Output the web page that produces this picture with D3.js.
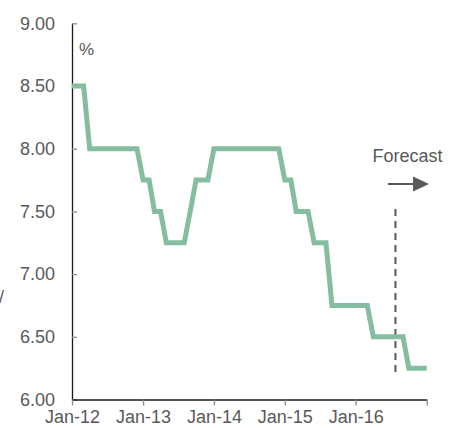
<!DOCTYPE html>
<html>
<head>
<meta charset="utf-8">
<script src="https://cdn.jsdelivr.net/npm/d3@7"></script>
<style>
  html, body { margin: 0; padding: 0; background: #fff; }
  svg { display: block; }
  text { font-family: "Liberation Sans", Arial, sans-serif; }
</style>
</head>
<body>
<svg id="chart" width="458" height="428"></svg>
<script>
// ---- data ----
const startMonth = "2012-01";
const endMonth = "2017-01";
const rates = [
  // 2012
  8.5, 8.5, 8.5, 8.0, 8.0, 8.0, 8.0, 8.0, 8.0, 8.0, 8.0, 8.0,
  // 2013
  7.75, 7.75, 7.5, 7.5, 7.25, 7.25, 7.25, 7.25, 7.5, 7.75, 7.75, 7.75,
  // 2014
  8.0, 8.0, 8.0, 8.0, 8.0, 8.0, 8.0, 8.0, 8.0, 8.0, 8.0, 8.0,
  // 2015
  7.75, 7.75, 7.5, 7.5, 7.5, 7.25, 7.25, 7.25, 6.75, 6.75, 6.75, 6.75,
  // 2016
  6.75, 6.75, 6.75, 6.5, 6.5, 6.5, 6.5, 6.5, 6.5, 6.25, 6.25, 6.25,
  // 2017
  6.25
];
const yTicks = [6.0, 6.5, 7.0, 7.5, 8.0, 8.5, 9.0];
const xTickDates = ["2012-01-01", "2013-01-01", "2014-01-01", "2015-01-01", "2016-01-01", "2017-01-01"];
const xTickLabels = ["Jan-12", "Jan-13", "Jan-14", "Jan-15", "Jan-16", ""];
const forecastStart = "2016-07-24";
const forecastLineRange = [6.18, 7.52];
const unitLabel = "%";
const forecastLabel = "Forecast";

// ---- build ----
const parseM = d3.timeParse("%Y-%m");
const parseD = d3.timeParse("%Y-%m-%d");
const months = d3.timeMonth.range(parseM(startMonth), d3.timeMonth.offset(parseM(endMonth), 1));
const series = months.map((d, i) => ({ date: d, value: rates[i] }));

const svg = d3.select("#chart");
const grey = "#595959";

const x = d3.scaleTime()
  .domain([parseD(xTickDates[0]), parseD(xTickDates[xTickDates.length - 1])])
  .range([72, 426.7]);
const y = d3.scaleLinear().domain([6, 9]).range([399.5, 23.3]);

// y axis
const yAxis = svg.append("g").attr("transform", "translate(72,0)")
  .call(d3.axisLeft(y).tickValues(yTicks).tickFormat(d3.format(".2f")).tickSizeInner(-5).tickSizeOuter(0).tickPadding(17));
yAxis.select(".domain").attr("stroke", "#1a1a1a").attr("stroke-width", 1.3);
yAxis.selectAll(".tick line").attr("stroke", "#8c8c8c").attr("stroke-width", 1.3);
yAxis.selectAll(".tick text").attr("fill", grey).attr("font-size", 18);

// x axis
const xAxis = svg.append("g").attr("transform", `translate(0,${y(6)})`)
  .call(d3.axisBottom(x).tickValues(xTickDates.map(parseD))
    .tickFormat((d, i) => xTickLabels[i]).tickSizeInner(6).tickSizeOuter(0).tickPadding(5));
xAxis.select(".domain").attr("stroke", "#1a1a1a").attr("stroke-width", 1.3);
xAxis.selectAll(".tick line").attr("stroke", "#8c8c8c").attr("stroke-width", 1.3);
xAxis.selectAll(".tick text").attr("fill", grey).attr("font-size", 18);

// forecast dashed line
const fx = x(parseD(forecastStart));
svg.append("line")
  .attr("x1", fx).attr("x2", fx)
  .attr("y1", y(forecastLineRange[1])).attr("y2", y(forecastLineRange[0]))
  .attr("stroke", grey).attr("stroke-width", 2).attr("stroke-dasharray", "7,5");

// rate line
const line = d3.line().x(d => x(d.date)).y(d => y(d.value));
svg.append("path").datum(series)
  .attr("d", line)
  .attr("fill", "none")
  .attr("stroke", "#84bd9f")
  .attr("stroke-width", 5)
  .attr("stroke-linejoin", "miter");

// unit label
svg.append("text").attr("x", 79).attr("y", 55).attr("fill", grey).attr("font-size", 17).text(unitLabel);

// forecast label + arrow
svg.append("text").attr("x", 407.5).attr("y", 162).attr("text-anchor", "middle")
  .attr("fill", grey).attr("font-size", 18).text(forecastLabel);
svg.append("line").attr("x1", 388).attr("x2", 415).attr("y1", 184).attr("y2", 184)
  .attr("stroke", grey).attr("stroke-width", 2);
svg.append("path").attr("d", "M413,176.5 L429,184 L413,191.5 Z").attr("fill", grey);

// clipped fragment at the left edge
svg.append("text").attr("x", -1).attr("y", 303).attr("fill", grey).attr("font-size", 18).text("/");
</script>
</body>
</html>
